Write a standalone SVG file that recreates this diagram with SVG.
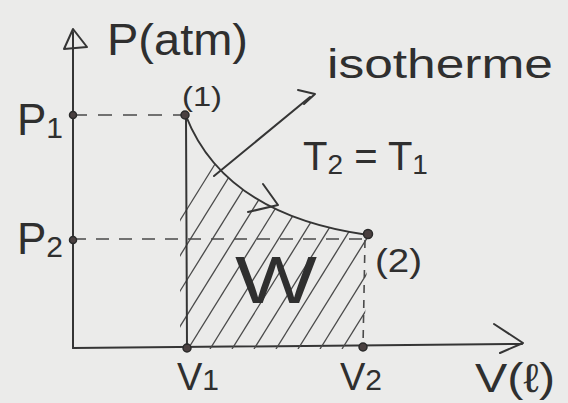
<svg xmlns="http://www.w3.org/2000/svg" width="568" height="403" viewBox="0 0 568 403">
<style>
.ink{stroke:#353535;stroke-width:2;fill:none;stroke-linecap:round;stroke-linejoin:round}
.dash{stroke:#4a4a4a;stroke-width:1.6;fill:none}
.hatch{stroke:#4a4a4a;stroke-width:1.3;fill:none}
.dot{fill:#4a4040;stroke:#2a2a2a;stroke-width:1.5}
.t{font-family:"Liberation Sans",Arial,sans-serif;fill:#2f2f2f}
</style>
<defs>
<clipPath id="area"><path d="M186,116 Q225,215 368,235 L364,349 L180,349 L180,160 Z"/></clipPath>
</defs>
<rect width="568" height="403" fill="#ebebea"/>
<g id="axes">
<line class="ink" x1="73" y1="348" x2="73" y2="32"/>
<polygon class="ink" points="64,49 73,29 87,47"/>
<line class="ink" x1="73" y1="348" x2="522" y2="344"/>
<polyline class="ink" points="494,324 523,343 500,353"/>
</g>
<g id="hatching" clip-path="url(#area)">
<g class="hatch">
<line x1="100" y1="349" x2="230" y2="140"/>
<line x1="122" y1="349" x2="252" y2="140"/>
<line x1="144" y1="349" x2="274" y2="140"/>
<line x1="166" y1="349" x2="296" y2="140"/>
<line x1="188" y1="349" x2="318" y2="140"/>
<line x1="210" y1="349" x2="340" y2="140"/>
<line x1="232" y1="349" x2="362" y2="140"/>
<line x1="254" y1="349" x2="384" y2="140"/>
<line x1="276" y1="349" x2="406" y2="140"/>
<line x1="298" y1="349" x2="428" y2="140"/>
<line x1="320" y1="349" x2="450" y2="140"/>
<line x1="342" y1="349" x2="472" y2="140"/>
</g>
</g>
<g id="connectors">
<line class="dash" x1="73" y1="115" x2="185" y2="115" stroke-dasharray="14 11"/>
<line class="dash" x1="73" y1="239" x2="368" y2="239" stroke-dasharray="13 10"/>
<line class="dash" x1="365" y1="240" x2="363" y2="347" stroke-dasharray="8 7"/>
<line class="ink" x1="186" y1="116" x2="187" y2="348" stroke-width="1.6"/>
<path class="ink" d="M186,116 Q225,215 368,235"/>
<polyline class="ink" points="263,184 278,205 248,212"/>
<line class="ink" x1="214" y1="176" x2="310" y2="97" stroke-width="1.7"/>
<polyline class="ink" points="298,90 315,94 304,104" stroke-width="1.7"/>
</g>
<g id="point1">
<circle class="dot" cx="73" cy="115" r="3.5"/>
<circle class="dot" cx="185" cy="115" r="4"/>
<text class="t" x="182" y="106" font-size="28" textLength="40" lengthAdjust="spacingAndGlyphs">(1)</text>
</g>
<g id="point2">
<circle class="dot" cx="73" cy="240" r="3.5"/>
<circle class="dot" cx="368" cy="234" r="4.5" fill="none"/>
<text class="t" x="375" y="272" font-size="34" textLength="47" lengthAdjust="spacingAndGlyphs">(2)</text>
</g>
<g id="v-marks">
<circle class="dot" cx="187" cy="348" r="4"/>
<circle class="dot" cx="363" cy="347" r="4"/>
</g>
<g id="labels">
<text class="t" x="107" y="55" font-size="44" textLength="141" lengthAdjust="spacingAndGlyphs">P(atm)</text>
<text class="t" x="17" y="135" font-size="44">P<tspan font-size="30" dy="3">1</tspan></text>
<text class="t" x="17" y="254" font-size="44">P<tspan font-size="30" dy="3">2</tspan></text>
<text class="t" x="327" y="78" font-size="40" textLength="226" lengthAdjust="spacingAndGlyphs">isotherme</text>
<text class="t" x="303" y="170" font-size="40">T<tspan font-size="28" dy="4">2</tspan><tspan dy="-4"> = T</tspan><tspan font-size="28" dy="4">1</tspan></text>
<text class="t" x="235" y="303" font-size="66" textLength="82" lengthAdjust="spacingAndGlyphs">W</text>
<text class="t" x="177" y="390" font-size="38">V<tspan font-size="30">1</tspan></text>
<text class="t" x="340" y="390" font-size="38">V<tspan font-size="30">2</tspan></text>
<text class="t" x="475" y="392" font-size="40" textLength="80" lengthAdjust="spacingAndGlyphs">V(ℓ)</text>
</g>
</svg>
